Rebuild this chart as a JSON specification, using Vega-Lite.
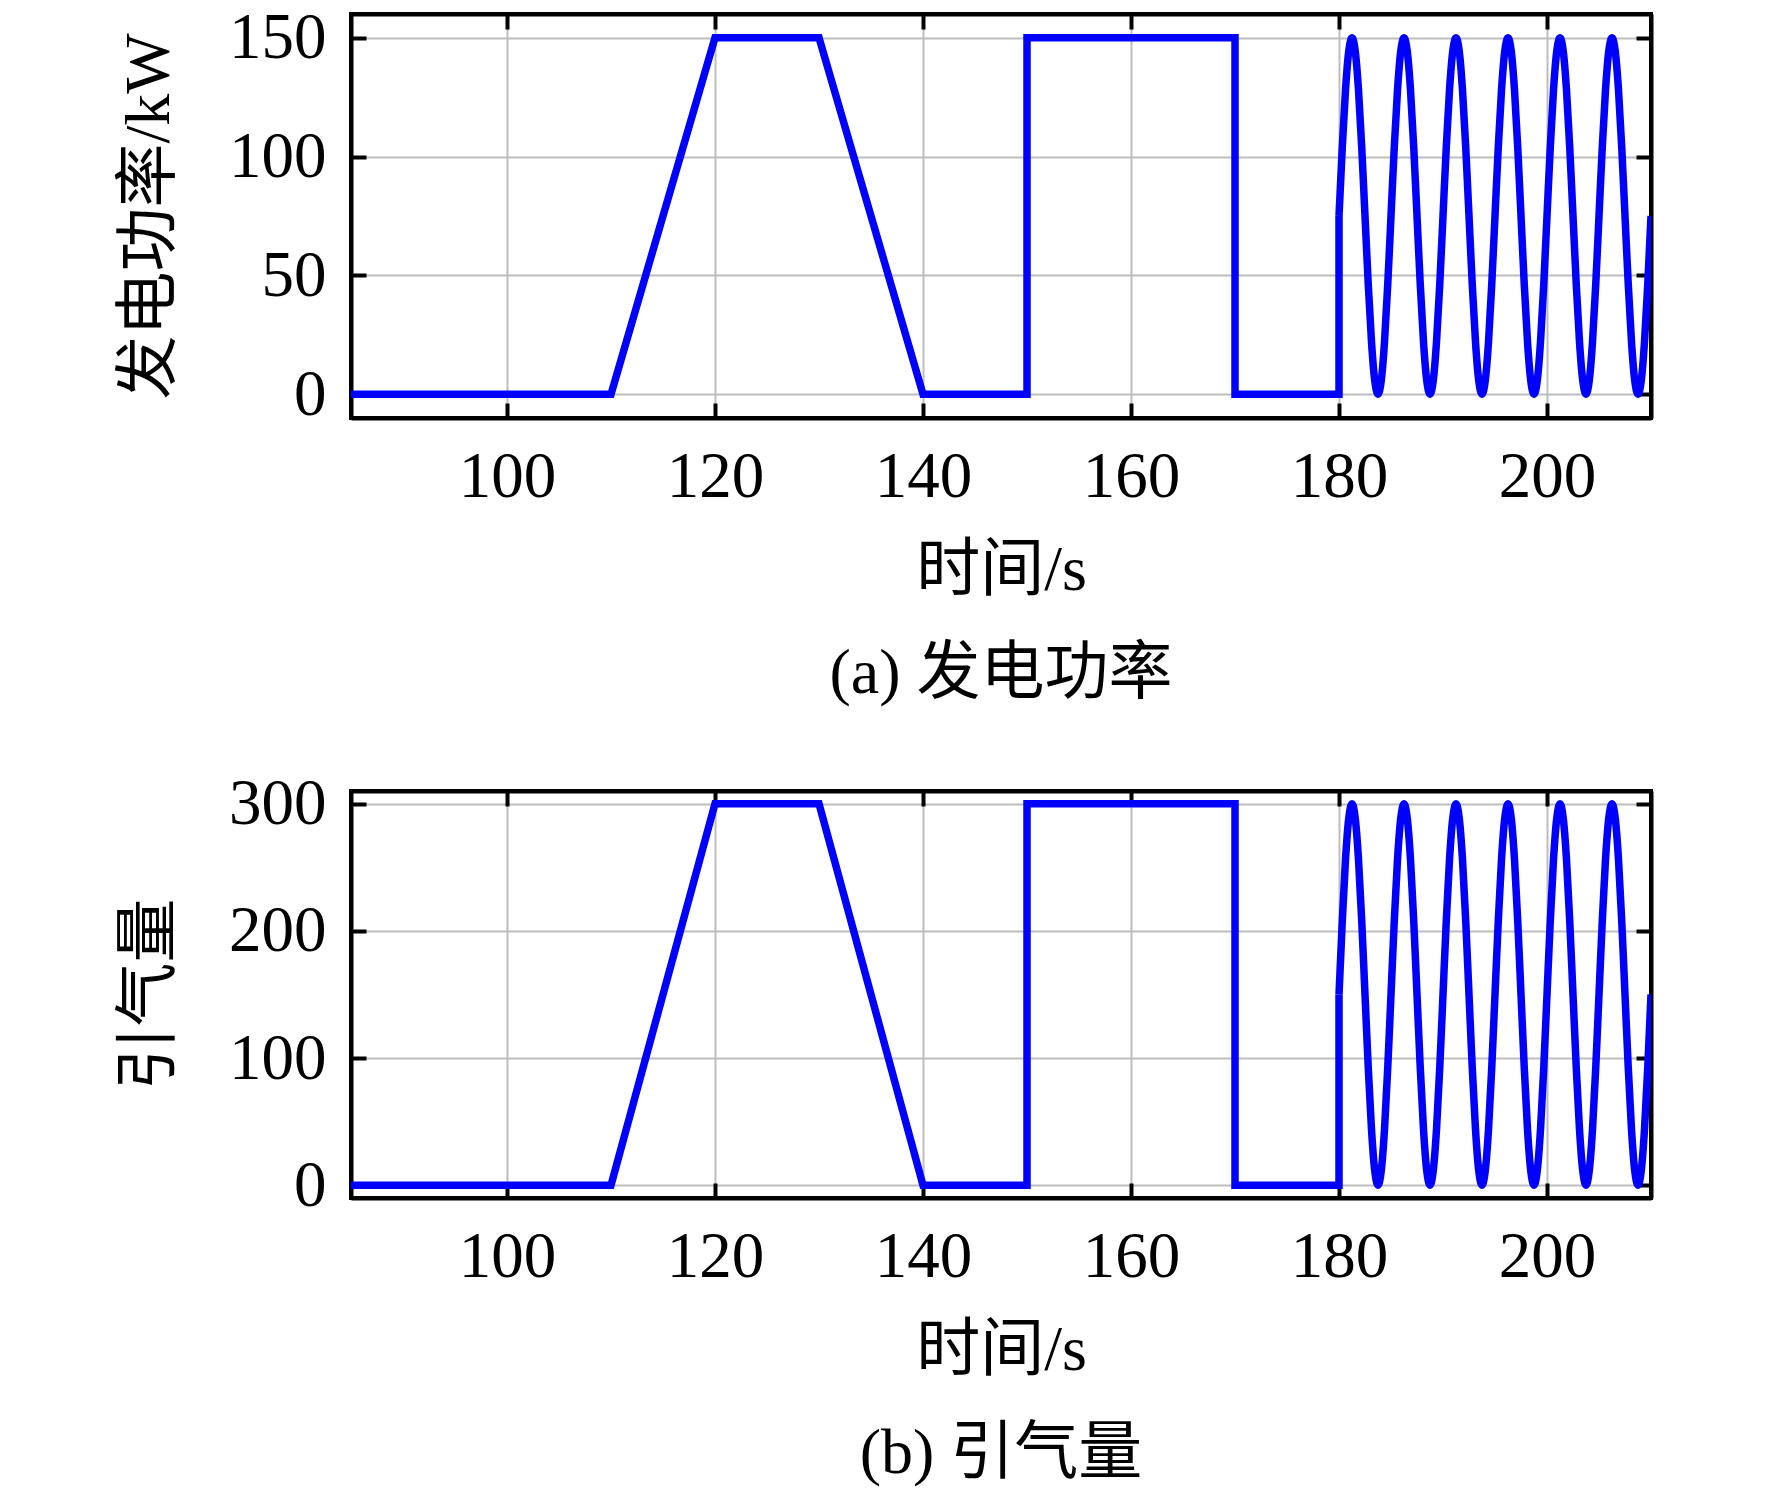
{
  "$schema": "https://vega.github.io/schema/vega-lite/v6.json",
  "background": "white",
  "padding": {"left": 114, "top": 3, "right": 10, "bottom": 10},
  "autosize": {"type": "pad"},
  "datasets": {
    "step": [
      {"t": 85, "P": 0, "Q": 0},
      {"t": 110, "P": 0, "Q": 0},
      {"t": 120, "P": 150, "Q": 300},
      {"t": 130, "P": 150, "Q": 300},
      {"t": 140, "P": 0, "Q": 0},
      {"t": 150, "P": 0, "Q": 0},
      {"t": 150, "P": 150, "Q": 300},
      {"t": 170, "P": 150, "Q": 300},
      {"t": 170, "P": 0, "Q": 0},
      {"t": 180, "P": 0, "Q": 0},
      {"t": 180, "P": 75, "Q": 150}
    ],
    "sine": [
      {"t": 180, "P": 75, "Q": 150},
      {"t": 180.3125, "P": 103.7, "Q": 207.4},
      {"t": 180.625, "P": 128.0, "Q": 256.1},
      {"t": 180.9375, "P": 144.3, "Q": 288.6},
      {"t": 181.25, "P": 150, "Q": 300},
      {"t": 181.5625, "P": 144.3, "Q": 288.6},
      {"t": 181.875, "P": 128.0, "Q": 256.1},
      {"t": 182.1875, "P": 103.7, "Q": 207.4},
      {"t": 182.5, "P": 75, "Q": 150},
      {"t": 182.8125, "P": 46.3, "Q": 92.6},
      {"t": 183.125, "P": 22.0, "Q": 43.9},
      {"t": 183.4375, "P": 5.7, "Q": 11.4},
      {"t": 183.75, "P": 0, "Q": 0},
      {"t": 184.0625, "P": 5.7, "Q": 11.4},
      {"t": 184.375, "P": 22.0, "Q": 43.9},
      {"t": 184.6875, "P": 46.3, "Q": 92.6},
      {"t": 185, "P": 75, "Q": 150},
      {"t": 185.3125, "P": 103.7, "Q": 207.4},
      {"t": 185.625, "P": 128.0, "Q": 256.1},
      {"t": 185.9375, "P": 144.3, "Q": 288.6},
      {"t": 186.25, "P": 150, "Q": 300},
      {"t": 186.5625, "P": 144.3, "Q": 288.6},
      {"t": 186.875, "P": 128.0, "Q": 256.1},
      {"t": 187.1875, "P": 103.7, "Q": 207.4},
      {"t": 187.5, "P": 75, "Q": 150},
      {"t": 187.8125, "P": 46.3, "Q": 92.6},
      {"t": 188.125, "P": 22.0, "Q": 43.9},
      {"t": 188.4375, "P": 5.7, "Q": 11.4},
      {"t": 188.75, "P": 0, "Q": 0},
      {"t": 189.0625, "P": 5.7, "Q": 11.4},
      {"t": 189.375, "P": 22.0, "Q": 43.9},
      {"t": 189.6875, "P": 46.3, "Q": 92.6},
      {"t": 190, "P": 75, "Q": 150},
      {"t": 190.3125, "P": 103.7, "Q": 207.4},
      {"t": 190.625, "P": 128.0, "Q": 256.1},
      {"t": 190.9375, "P": 144.3, "Q": 288.6},
      {"t": 191.25, "P": 150, "Q": 300},
      {"t": 191.5625, "P": 144.3, "Q": 288.6},
      {"t": 191.875, "P": 128.0, "Q": 256.1},
      {"t": 192.1875, "P": 103.7, "Q": 207.4},
      {"t": 192.5, "P": 75, "Q": 150},
      {"t": 192.8125, "P": 46.3, "Q": 92.6},
      {"t": 193.125, "P": 22.0, "Q": 43.9},
      {"t": 193.4375, "P": 5.7, "Q": 11.4},
      {"t": 193.75, "P": 0, "Q": 0},
      {"t": 194.0625, "P": 5.7, "Q": 11.4},
      {"t": 194.375, "P": 22.0, "Q": 43.9},
      {"t": 194.6875, "P": 46.3, "Q": 92.6},
      {"t": 195, "P": 75, "Q": 150},
      {"t": 195.3125, "P": 103.7, "Q": 207.4},
      {"t": 195.625, "P": 128.0, "Q": 256.1},
      {"t": 195.9375, "P": 144.3, "Q": 288.6},
      {"t": 196.25, "P": 150, "Q": 300},
      {"t": 196.5625, "P": 144.3, "Q": 288.6},
      {"t": 196.875, "P": 128.0, "Q": 256.1},
      {"t": 197.1875, "P": 103.7, "Q": 207.4},
      {"t": 197.5, "P": 75, "Q": 150},
      {"t": 197.8125, "P": 46.3, "Q": 92.6},
      {"t": 198.125, "P": 22.0, "Q": 43.9},
      {"t": 198.4375, "P": 5.7, "Q": 11.4},
      {"t": 198.75, "P": 0, "Q": 0},
      {"t": 199.0625, "P": 5.7, "Q": 11.4},
      {"t": 199.375, "P": 22.0, "Q": 43.9},
      {"t": 199.6875, "P": 46.3, "Q": 92.6},
      {"t": 200, "P": 75, "Q": 150},
      {"t": 200.3125, "P": 103.7, "Q": 207.4},
      {"t": 200.625, "P": 128.0, "Q": 256.1},
      {"t": 200.9375, "P": 144.3, "Q": 288.6},
      {"t": 201.25, "P": 150, "Q": 300},
      {"t": 201.5625, "P": 144.3, "Q": 288.6},
      {"t": 201.875, "P": 128.0, "Q": 256.1},
      {"t": 202.1875, "P": 103.7, "Q": 207.4},
      {"t": 202.5, "P": 75, "Q": 150},
      {"t": 202.8125, "P": 46.3, "Q": 92.6},
      {"t": 203.125, "P": 22.0, "Q": 43.9},
      {"t": 203.4375, "P": 5.7, "Q": 11.4},
      {"t": 203.75, "P": 0, "Q": 0},
      {"t": 204.0625, "P": 5.7, "Q": 11.4},
      {"t": 204.375, "P": 22.0, "Q": 43.9},
      {"t": 204.6875, "P": 46.3, "Q": 92.6},
      {"t": 205, "P": 75, "Q": 150},
      {"t": 205.3125, "P": 103.7, "Q": 207.4},
      {"t": 205.625, "P": 128.0, "Q": 256.1},
      {"t": 205.9375, "P": 144.3, "Q": 288.6},
      {"t": 206.25, "P": 150, "Q": 300},
      {"t": 206.5625, "P": 144.3, "Q": 288.6},
      {"t": 206.875, "P": 128.0, "Q": 256.1},
      {"t": 207.1875, "P": 103.7, "Q": 207.4},
      {"t": 207.5, "P": 75, "Q": 150},
      {"t": 207.8125, "P": 46.3, "Q": 92.6},
      {"t": 208.125, "P": 22.0, "Q": 43.9},
      {"t": 208.4375, "P": 5.7, "Q": 11.4},
      {"t": 208.75, "P": 0, "Q": 0},
      {"t": 209.0625, "P": 5.7, "Q": 11.4},
      {"t": 209.375, "P": 22.0, "Q": 43.9},
      {"t": 209.6875, "P": 46.3, "Q": 92.6},
      {"t": 210, "P": 75, "Q": 150}
    ]
  },
  "config": {
    "font": "Liberation Serif, Noto Sans CJK SC",
    "view": {"stroke": "black", "strokeWidth": 4},
    "axis": {
      "labelFont": "Liberation Serif, Noto Sans CJK SC",
      "labelFontSize": 65,
      "labelColor": "black",
      "titleFont": "Liberation Serif, Noto Sans CJK SC",
      "titleFontSize": 64,
      "titleFontWeight": "normal",
      "titleColor": "black",
      "domainColor": "black",
      "domainWidth": 4,
      "ticks": true,
      "tickColor": "black",
      "tickWidth": 4,
      "tickSize": -15,
      "gridColor": "#bdbdbd",
      "gridWidth": 2,
      "gridOpacity": 1
    },
    "title": {"font": "Liberation Serif, Noto Sans CJK SC", "fontSize": 64, "fontWeight": "normal", "color": "black"}
  },
  "bounds": "flush",
  "spacing": 373,
  "vconcat": [
    {
      "width": 1300,
      "height": 404,
      "title": {"text": "(a) 发电功率", "orient": "bottom", "anchor": "middle", "offset": 40},
      "layer": [
        {
          "data": {"name": "step"},
          "mark": {"type": "line", "color": "#0000ff", "strokeWidth": 7.5, "clip": true},
          "encoding": {
            "x": {"field": "t", "type": "quantitative", "scale": {"domain": [85, 210], "nice": false, "zero": false},
              "axis": {"values": [100, 120, 140, 160, 180, 200], "title": "时间/s", "labelPadding": 42, "titleY": 152, "titleBaseline": "middle", "grid": true}},
            "y": {"field": "P", "type": "quantitative", "scale": {"domain": [-10, 160], "nice": false, "zero": false},
              "axis": {"values": [0, 50, 100, 150], "title": "发电功率/kW", "labelPadding": 40, "titleX": -202, "titleY": 202, "titleAngle": -90, "titleAlign": "center", "titleBaseline": "middle", "grid": true}}
          }
        },
        {
          "data": {"name": "sine"},
          "mark": {"type": "line", "color": "#0000ff", "strokeWidth": 7.5, "interpolate": "monotone", "clip": true},
          "encoding": {
            "x": {"field": "t", "type": "quantitative", "axis": {"orient": "top", "values": [100, 120, 140, 160, 180, 200], "labels": false, "title": null, "grid": false}},
            "y": {"field": "P", "type": "quantitative", "axis": {"orient": "right", "values": [0, 50, 100, 150], "labels": false, "title": null, "grid": false}}
          }
        }
      ],
      "resolve": {"axis": {"x": "independent", "y": "independent"}}
    },
    {
      "width": 1300,
      "height": 407,
      "title": {"text": "(b) 引气量", "orient": "bottom", "anchor": "middle", "offset": 40},
      "layer": [
        {
          "data": {"name": "step"},
          "mark": {"type": "line", "color": "#0000ff", "strokeWidth": 7.5, "clip": true},
          "encoding": {
            "x": {"field": "t", "type": "quantitative", "scale": {"domain": [85, 210], "nice": false, "zero": false},
              "axis": {"values": [100, 120, 140, 160, 180, 200], "title": "时间/s", "labelPadding": 42, "titleY": 152, "titleBaseline": "middle", "grid": true}},
            "y": {"field": "Q", "type": "quantitative", "scale": {"domain": [-10, 310], "nice": false, "zero": false},
              "axis": {"values": [0, 100, 200, 300], "title": "引气量", "labelPadding": 40, "titleX": -202, "titleY": 203, "titleAngle": -90, "titleAlign": "center", "titleBaseline": "middle", "grid": true}}
          }
        },
        {
          "data": {"name": "sine"},
          "mark": {"type": "line", "color": "#0000ff", "strokeWidth": 7.5, "interpolate": "monotone", "clip": true},
          "encoding": {
            "x": {"field": "t", "type": "quantitative", "axis": {"orient": "top", "values": [100, 120, 140, 160, 180, 200], "labels": false, "title": null, "grid": false}},
            "y": {"field": "Q", "type": "quantitative", "axis": {"orient": "right", "values": [0, 100, 200, 300], "labels": false, "title": null, "grid": false}}
          }
        }
      ],
      "resolve": {"axis": {"x": "independent", "y": "independent"}}
    }
  ]
}
